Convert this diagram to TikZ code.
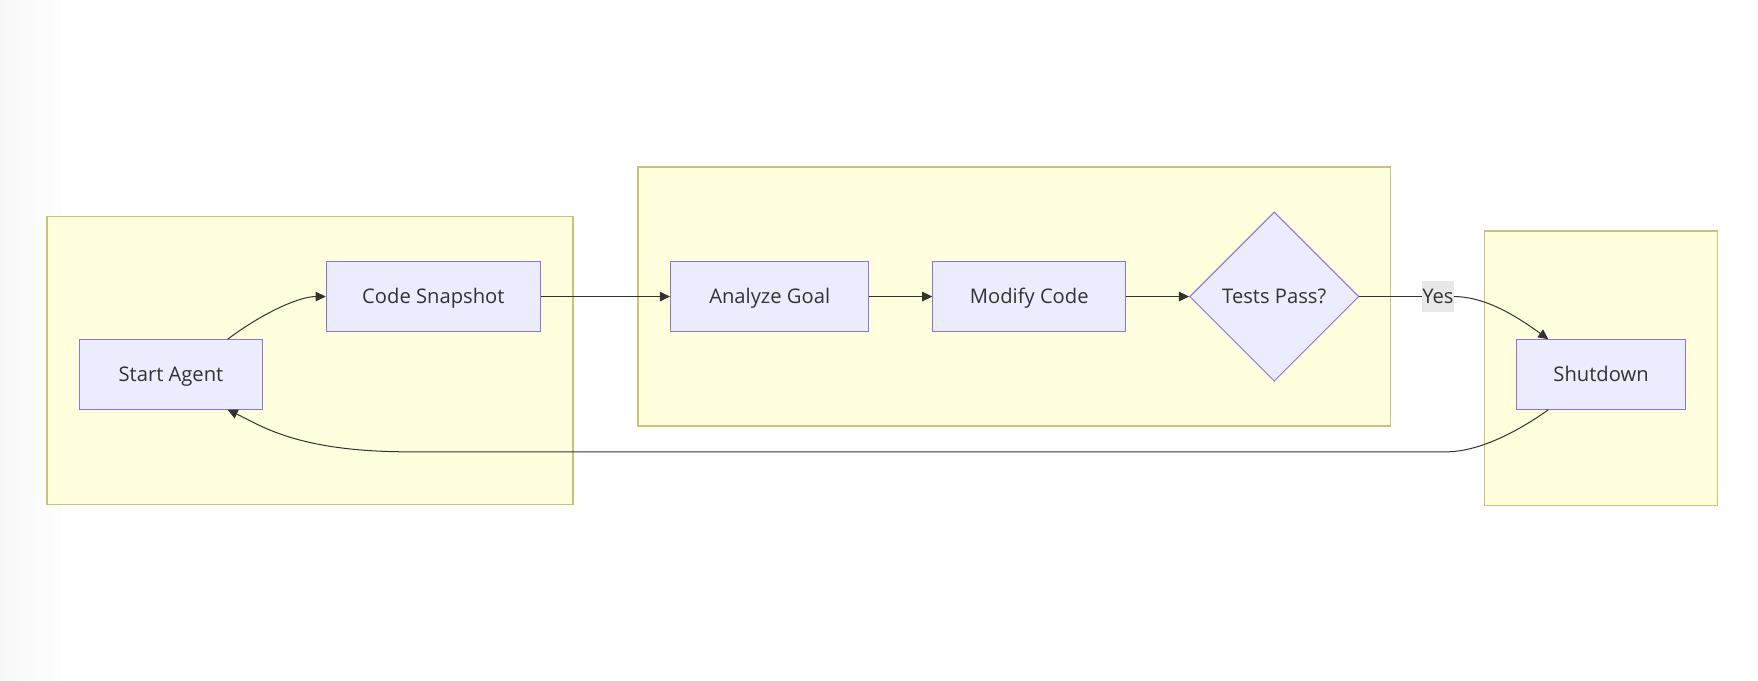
\documentclass[tikz,border=0pt]{standalone}
\usepackage{fontspec}
\setmainfont{Open Sans}
\usetikzlibrary{shapes.geometric,arrows.meta,calc}
\definecolor{clfill}{HTML}{FFFFDE}
\definecolor{clline}{HTML}{C4C47A}
\definecolor{ndfill}{HTML}{ECECFF}
\definecolor{ndline}{HTML}{9370DB}
\definecolor{ink}{HTML}{333333}
\definecolor{lblbg}{HTML}{E8E8E8}
\pgfdeclarehorizontalshading{edgefade}{100bp}{color(0bp)=(black!4); color(50bp)=(black!1.5); color(100bp)=(white)}
\tikzset{
  cluster/.style={draw=clline,fill=clfill,line width=1.2pt},
  txt/.style={text=ink,font=\fontsize{18}{20}\selectfont,text height=12.8pt,text depth=0pt},
  procbox/.style={draw=ndline,fill=ndfill,line width=0.9pt,rectangle,inner sep=0pt,txt},
  decis/.style={draw=ndline,fill=ndfill,line width=0.9pt,diamond,aspect=1,inner sep=0pt,minimum width=151pt,minimum height=151pt,txt},
  conn/.style={draw=ink,line width=0.9pt,-{Triangle[length=9pt,width=8.5pt]}},
  plain/.style={draw=ink,line width=0.9pt},
  lbl/.style={fill=lblbg,inner sep=0pt,minimum height=27pt,minimum width=27pt,txt}
}
\begin{document}
\begin{tikzpicture}[x=1pt,y=-1pt]
\useasboundingbox (0,0) rectangle (1568,607);
\fill[white] (0,0) rectangle (1568,607);
\shade[shading=edgefade] (0,0) rectangle (55,607);
% clusters
\draw[cluster] (42,193) rectangle (511,450);
\draw[cluster] (569,149) rectangle (1240,380);
\draw[cluster] (1324,206) rectangle (1532,451);
% nodes
\node[procbox,minimum width=163pt,minimum height=62pt] (start) at (152.5,334) {Start Agent};
\node[procbox,minimum width=191pt,minimum height=63pt] (snap) at (386.5,264.5) {Code Snapshot};
\node[procbox,minimum width=177pt,minimum height=63pt] (goal) at (686.5,264.5) {Analyze Goal};
\node[procbox,minimum width=172pt,minimum height=63pt] (modify) at (918,264.5) {Modify Code};
\node[decis] (tests) at (1136.5,264.5) {Tests Pass?};
\node[procbox,minimum width=150pt,minimum height=62pt] (shut) at (1428,334) {Shutdown};
\node[lbl] (yes) at (1282.5,264.5) {Yes};
% connectors
\draw[conn] ($(start.north)+(50.5,0)$) .. controls ($(start.north)+(80,-22)$) and ($(snap.west)+(-25,0)$) .. (snap.west);
\draw[conn] (snap.east) -- (goal.west);
\draw[conn] (goal.east) -- (modify.west);
\draw[conn] (modify.east) -- (tests.west);
\draw[plain] (tests.east) -- (yes.west);
\draw[conn] (yes.east) .. controls ($(yes.east)+(30,0)$) and ($(shut.north)+(-72,-18)$) .. ($(shut.north)+(-47,0)$);
\coordinate (bR) at (1290,403);
\coordinate (bL) at (365,403);
\draw[conn] ($(shut.south)+(-47,0)$) .. controls ($(shut.south)+(-72,18)$) and ($(bR)+(30,0)$) .. (bR) -- (bL) .. controls ($(bL)+(-100,0)$) and ($(start.south)+(80,14)$) .. ($(start.south)+(50.5,0)$);
\end{tikzpicture}
\end{document}
